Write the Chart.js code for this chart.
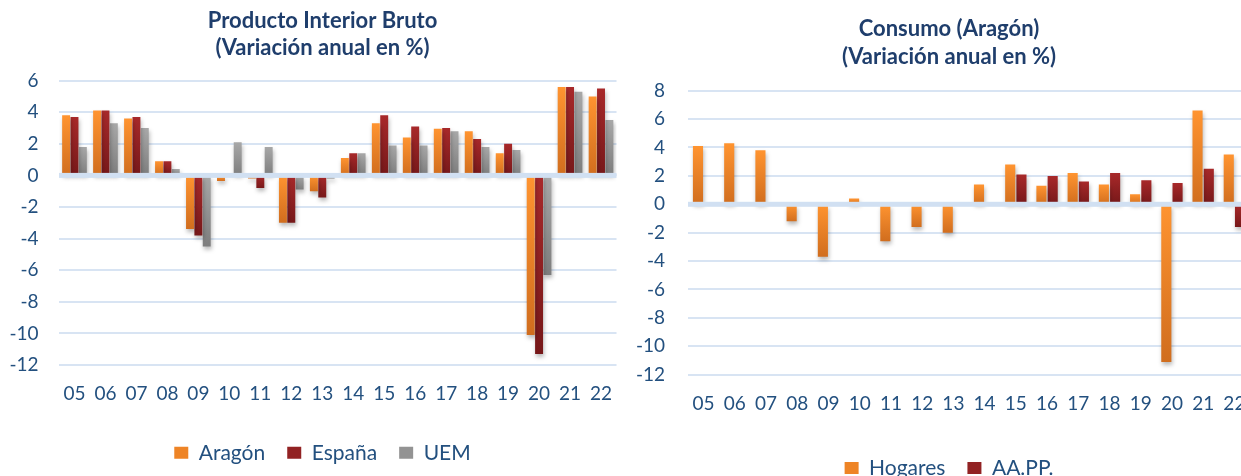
<!DOCTYPE html>
<html>
<head>
<meta charset="utf-8">
<script src="https://cdn.jsdelivr.net/npm/chart.js@4.4.1/dist/chart.umd.min.js"></script>
<style>
  html, body { margin: 0; padding: 0; overflow: hidden; background: #ffffff; }
  body { width: 1241px; height: 476px; position: relative; }
  #pib { position: absolute; left: 0; top: 0; }
  #consumo { position: absolute; left: 620px; top: 0; }
</style>
</head>
<body>
<canvas id="pib" width="645" height="476"></canvas>
<canvas id="consumo" width="658" height="500"></canvas>
<script>
const years = ["05", "06", "07", "08", "09", "10", "11", "12", "13", "14", "15", "16", "17", "18", "19", "20", "21", "22"];

// PIB, variacion anual en %
const aragon = [3.8, 4.1, 3.6, 0.9, -3.4, -0.35, -0.2, -3.0, -1.0, 1.1, 3.3, 2.4, 2.95, 2.8, 1.4, -10.1, 5.6, 5.0];
const espana = [3.7, 4.1, 3.7, 0.9, -3.8, 0.1, -0.8, -3.0, -1.4, 1.4, 3.8, 3.1, 3.0, 2.3, 2.0, -11.3, 5.6, 5.5];
const uem = [1.8, 3.3, 3.0, 0.4, -4.5, 2.1, 1.8, -0.9, -0.2, 1.4, 1.9, 1.9, 2.8, 1.8, 1.6, -6.3, 5.3, 3.5];

// Consumo (Aragon)
const hogares = [4.1, 4.3, 3.8, -1.2, -3.7, 0.4, -2.6, -1.6, -2.0, 1.4, 2.8, 1.3, 2.2, 1.4, 0.7, -11.1, 6.6, 3.5];
const aapp = [null, null, null, null, null, null, null, null, null, null, 2.1, 2.0, 1.6, 2.2, 1.7, 1.5, 2.5, -1.6];

const pibTicks = { min: -12, max: 6, step: 2 };
const consumoTicks = { min: -12, max: 8, step: 2 };

const FONT = "Lato";
const BLUE = "#23507f";
const TITLE_BLUE = "#1f3e6c";
const GRID = "#d8e4f3";

// degradado vertical por barra (claro arriba, oscuro abajo)
function degradado(top, bottom) {
  return function (c) {
    const chart = c.chart;
    const v = c.raw;
    if (c.type !== "data" || !chart.chartArea || v === null || v === undefined) return top;
    const y = chart.scales.y;
    const y0 = y.getPixelForValue(Math.max(v, 0));
    const y1 = y.getPixelForValue(Math.min(v, 0));
    const g = chart.ctx.createLinearGradient(0, y0, 0, y1 + 0.5);
    g.addColorStop(0, top);
    g.addColorStop(1, bottom);
    return g;
  };
}

// sombra de las barras y linea gruesa del cero
const sombraYCero = {
  id: "sombraYCero",
  beforeDatasetsDraw(chart) {
    const ctx = chart.ctx;
    ctx.save();
    ctx.shadowColor = "rgba(0,0,0,0.28)";
    ctx.shadowBlur = 4;
    ctx.shadowOffsetX = 1;
    ctx.shadowOffsetY = 3;
  },
  afterDatasetsDraw(chart) {
    const ctx = chart.ctx;
    ctx.restore();
    const area = chart.chartArea;
    const y0 = chart.scales.y.getPixelForValue(0);
    ctx.save();
    ctx.fillStyle = "#d1e0f2";
    ctx.fillRect(area.left, y0 - 2.5, area.right - area.left, 5);
    ctx.restore();
  },
};

function crearGrafico(id, cfg) {
  const solidos = cfg.datasets.map((d) => d.legendColor);
  new Chart(document.getElementById(id), {
    type: "bar",
    data: {
      labels: years,
      datasets: cfg.datasets.map((d) => ({
        label: d.label,
        data: d.data,
        yAxisID: "y",
        backgroundColor: degradado(d.top, d.bottom),
        borderWidth: 0,
        categoryPercentage: cfg.catPct,
        barPercentage: cfg.barPct,
      })),
    },
    options: {
      responsive: false,
      animation: false,
      devicePixelRatio: 1,
      layout: { padding: { left: 0, right: 0, top: 0, bottom: cfg.padBottom } },
      scales: {
        x: {
          grid: { display: false, drawTicks: false },
          border: { display: false },
          ticks: { color: BLUE, font: { family: FONT, size: 19 }, padding: 17.6, maxRotation: 0, autoSkip: false },
          afterFit: (s) => { s.height = cfg.xHeight; },
        },
        y: {
          min: cfg.ticks.min,
          max: cfg.ticks.max,
          grid: { color: GRID, lineWidth: 2, drawTicks: false },
          border: { display: false },
          ticks: { stepSize: cfg.ticks.step, color: BLUE, font: { family: FONT, size: 19 }, padding: cfg.yPad },
          afterFit: (s) => { s.width = cfg.yWidth; },
        },
        // espacio vacio a la derecha del area de trazado
        margen: {
          axis: "y",
          position: "right",
          grid: { display: false, drawTicks: false },
          border: { display: false },
          ticks: { display: false },
          afterFit: (s) => { s.width = cfg.rightGap; },
        },
      },
      plugins: {
        title: {
          display: true,
          text: cfg.title,
          color: TITLE_BLUE,
          font: { family: FONT, size: 22, weight: "bold", lineHeight: cfg.titleLH },
          padding: cfg.titlePad,
        },
        legend: {
          position: "bottom",
          labels: {
            color: BLUE,
            font: { family: FONT, size: 21 },
            boxWidth: 14,
            boxHeight: 12,
            padding: 22,
            generateLabels(chart) {
              const items = Chart.defaults.plugins.legend.labels.generateLabels(chart);
              items.forEach((it, i) => {
                it.fillStyle = solidos[i];
                it.strokeStyle = solidos[i];
                it.lineWidth = 0;
              });
              return items;
            },
          },
        },
        tooltip: { enabled: false },
      },
    },
    plugins: [sombraYCero],
  });
}

const ORANGE = ["#ff9430", "#d06d1e", "#ee8426"];
const RED = ["#a8292a", "#761819", "#922223"];
const GRAY = ["#a8a8a8", "#7d7d7d", "#939393"];

crearGrafico("pib", {
  title: ["Producto Interior Bruto", "(Variación anual en %)"],
  titleLH: 1.2,
  titlePad: { top: 8, bottom: 19.8 },
  padBottom: 2.7,
  xHeight: 55.3,
  yWidth: 59,
  rightGap: 28.5,
  yPad: 20.5,
  ticks: pibTicks,
  catPct: 0.81,
  barPct: 0.95,
  datasets: [
    { label: "Aragón", data: aragon, top: ORANGE[0], bottom: ORANGE[1], legendColor: ORANGE[2] },
    { label: "España", data: espana, top: RED[0], bottom: RED[1], legendColor: RED[2] },
    { label: "UEM", data: uem, top: GRAY[0], bottom: GRAY[1], legendColor: GRAY[2] },
  ],
});

crearGrafico("consumo", {
  title: ["Consumo (Aragón)", "(Variación anual en %)"],
  titleLH: 1.27,
  titlePad: { top: 15, bottom: 19.8 },
  padBottom: 11.5,
  xHeight: 60.8,
  yWidth: 68,
  rightGap: 28,
  yPad: 23,
  ticks: consumoTicks,
  catPct: 0.72,
  barPct: 0.9,
  datasets: [
    { label: "Hogares", data: hogares, top: ORANGE[0], bottom: ORANGE[1], legendColor: ORANGE[2] },
    { label: "AA.PP.", data: aapp, top: RED[0], bottom: RED[1], legendColor: RED[2] },
  ],
});
</script>
</body>
</html>
